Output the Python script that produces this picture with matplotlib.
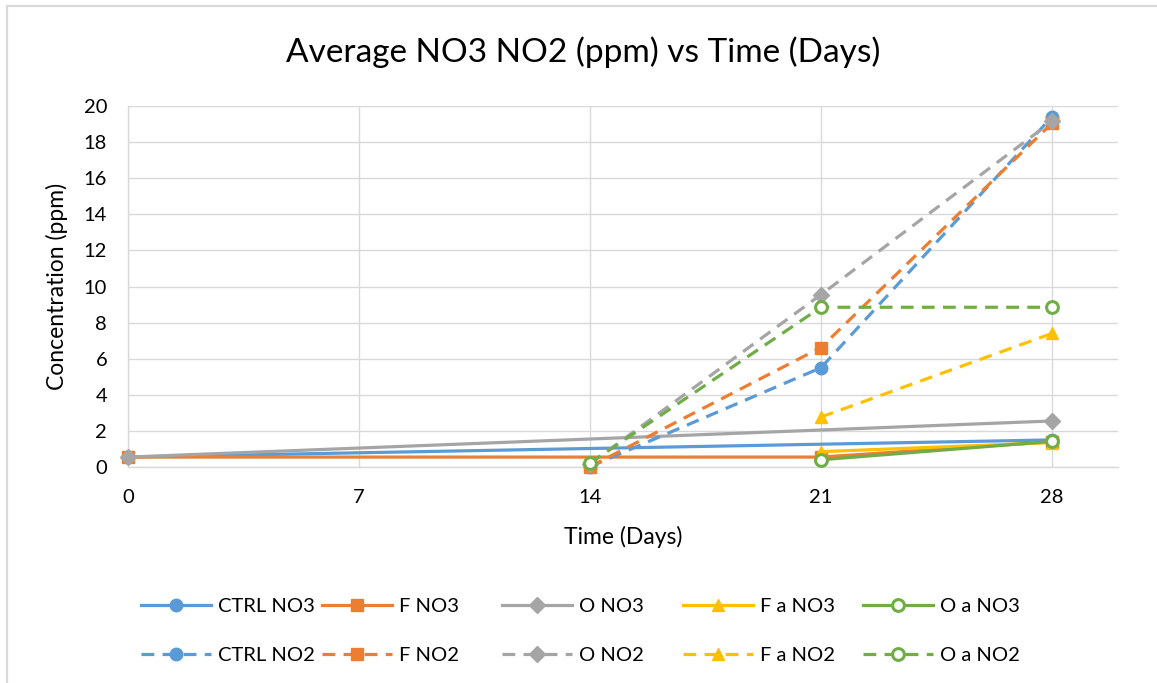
import numpy as np
import matplotlib
matplotlib.use("Agg")
import matplotlib.pyplot as plt
from matplotlib.patches import Rectangle

plt.rcParams['font.family'] = ['Lato', 'DejaVu Sans']

# Sampling days and measured averages (ppm); nan = not measured
days = [0, 14, 21, 28]
nan = np.nan
ctrl_no3 = [0.55, nan, nan, 1.50]
f_no3 = [0.55, nan, 0.55, 1.40]
o_no3 = [0.55, nan, nan, 2.55]
fa_no3 = [nan, nan, 0.85, 1.35]
oa_no3 = [nan, nan, 0.40, 1.42]
ctrl_no2 = [nan, 0.02, 5.50, 19.40]
f_no2 = [nan, 0.02, 6.62, 19.05]
o_no2 = [nan, 0.18, 9.55, 19.15]
fa_no2 = [nan, nan, 2.77, 7.40]
oa_no2 = [nan, 0.22, 8.85, 8.85]

labels = ["CTRL NO3", "F NO3", "O NO3", "F a NO3", "O a NO3",
          "CTRL NO2", "F NO2", "O NO2", "F a NO2", "O a NO2"]
x_ticks = [0, 7, 14, 21, 28]
y_ticks = list(range(0, 21, 2))

BLUE, ORANGE, GRAY, GOLD, GREEN = "#5B9BD5", "#ED7D31", "#A5A5A5", "#FFC000", "#70AD47"

series = [
    (ctrl_no3, BLUE, "o", True, "-"),
    (f_no3, ORANGE, "s", True, "-"),
    (o_no3, GRAY, "D", True, "-"),
    (fa_no3, GOLD, "^", True, "-"),
    (oa_no3, GREEN, "o", False, "-"),
    (ctrl_no2, BLUE, "o", True, "--"),
    (f_no2, ORANGE, "s", True, "--"),
    (o_no2, GRAY, "D", True, "--"),
    (fa_no2, GOLD, "^", True, "--"),
    (oa_no2, GREEN, "o", False, "--"),
]
marker_size = {"o": 9, "s": 8.5, "D": 8, "^": 9}

fig = plt.figure(figsize=(11.57, 6.83), dpi=100)
fig.patch.set_facecolor("white")
W, H = 1157, 683

# chart border
fig.patches.append(Rectangle((6.5 / W, -0.1), 1.2, 1.1 - 6.5 / H,
                             transform=fig.transFigure, fill=False,
                             edgecolor="#D9D9D9", linewidth=1.6, zorder=0))

ax = fig.add_axes([128 / W, (H - 467) / H, 990 / W, 361 / H])

handles = []
for (vals, color, marker, filled, ls), lab in zip(series, labels):
    x = np.array(days, dtype=float)
    y = np.array(vals, dtype=float)
    m = ~np.isnan(y)
    kw = dict(color=color, linewidth=2.3, marker=marker,
              markersize=marker_size[marker],
              markeredgecolor=color, label=lab, clip_on=False, zorder=3)
    if not filled:
        kw.update(markerfacecolor="white", markeredgewidth=2.2, markersize=8.5)
    else:
        kw.update(markerfacecolor=color)
    if ls == "--":
        kw["dashes"] = (4, 2.6)
    h, = ax.plot(x[m], y[m], **kw)
    handles.append(h)

ax.set_xlim(0, 30)
ax.set_ylim(0, 20)
ax.set_xticks(x_ticks)
ax.set_yticks(y_ticks)
ax.grid(True, color="#D9D9D9", linewidth=1.0)
ax.set_axisbelow(True)
for s in ["top", "right"]:
    ax.spines[s].set_visible(False)
for s in ["left", "bottom"]:
    ax.spines[s].set_color("#D9D9D9")
    ax.spines[s].set_linewidth(1.0)
ax.tick_params(length=0, labelsize=14.5, labelcolor="#000000")
ax.tick_params(axis="x", pad=16)
ax.tick_params(axis="y", pad=15)

fig.text(583 / W, 1 - 52 / H, "Average NO3 NO2 (ppm) vs Time (Days)",
         fontsize=24, ha="center", va="center")
ax.set_xlabel("Time (Days)", fontsize=16.5, labelpad=14)
ax.set_ylabel("Concentration (ppm)", fontsize=16.5, labelpad=11)

# legend: one column per treatment, NO3 on top row, NO2 below
col_x = [141, 322, 502, 683, 863]
for i, cx in enumerate(col_x):
    fig.legend([handles[i], handles[i + 5]], [labels[i], labels[i + 5]],
               loc="center left", bbox_to_anchor=(cx / W, 1 - 631 / H),
               frameon=False, fontsize=14.5, handlelength=3.5,
               handletextpad=0.3, labelspacing=1.55, borderpad=0,
               borderaxespad=0, numpoints=1)

fig.savefig("out.png", dpi=100, facecolor="white")
